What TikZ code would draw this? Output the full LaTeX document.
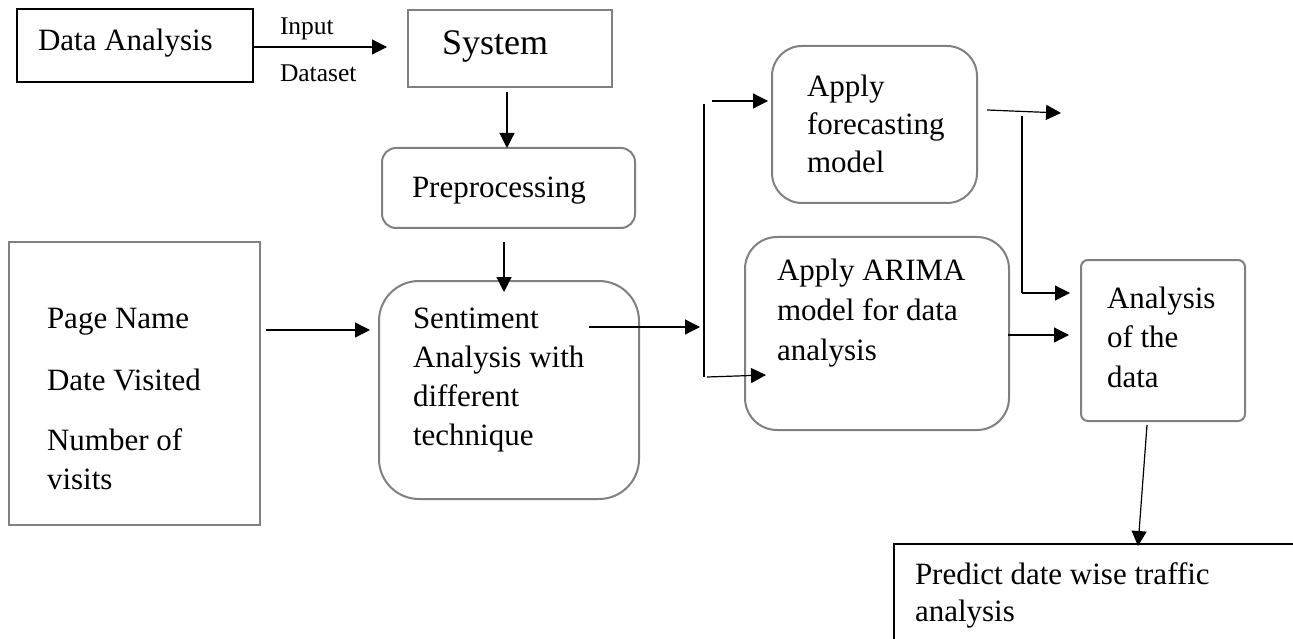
\documentclass[tikz,border=0pt]{standalone}
\usepackage{fontspec}
\setmainfont{Liberation Serif}
\usetikzlibrary{arrows.meta,calc}
\definecolor{boxgrey}{RGB}{128,128,128}

\begin{document}
\begin{tikzpicture}[x=1pt,y=-1pt,
  every node/.style={inner sep=0pt,outer sep=0pt},
  blackbox/.style={draw=black,line width=2pt},
  greybox/.style={draw=boxgrey,line width=2pt},
  flow/.style={line width=1.2pt,-{Triangle[length=15pt,width=15pt]}},
  plainline/.style={line width=1.2pt},
  txt/.style={anchor=base west,font=\fontsize{31}{39}\selectfont},
  smalltxt/.style={anchor=base west,font=\fontsize{25.5}{30}\selectfont},
  bigtxt/.style={anchor=base west,font=\fontsize{36}{44}\selectfont}]

\useasboundingbox (0,0) rectangle (1293,639);
\clip (0,0) rectangle (1293,639);

% boxes
\node[blackbox,minimum width=236pt,minimum height=73pt] (da) at (135,45.5) {};
\node[greybox,minimum width=204pt,minimum height=77pt] (sys) at (510,48.5) {};
\node[greybox,rounded corners=14pt,minimum width=253pt,minimum height=80pt] (pre) at (508.5,188) {};
\node[greybox,minimum width=251pt,minimum height=283pt] (pages) at (134.5,383.5) {};
\node[greybox,rounded corners=40pt,minimum width=260pt,minimum height=218pt] (sent) at (509,390) {};
\node[greybox,rounded corners=30pt,minimum width=205pt,minimum height=157pt] (fore) at (874.5,124.5) {};
\node[greybox,rounded corners=32pt,minimum width=264pt,minimum height=193pt] (arima) at (877,333.5) {};
\node[greybox,rounded corners=7pt,minimum width=164pt,minimum height=161pt] (anal) at (1163,340.5) {};
\node[blackbox,anchor=north west,minimum width=430pt,minimum height=130pt] (pred) at (894,544) {};

% texts
\node[txt] (daT) at (38,51) {Data Analysis};
\node[smalltxt] (inT) at (280,35) {Input};
\node[smalltxt] (dsT) at (280,82) {Dataset};
\node[bigtxt] (sysT) at (442,55) {System};
\node[txt] (preT) at (412,198) {Preprocessing};
\node[txt] (pagesT) at (47,328) {\vtop{\hbox{Page Name}\vskip23pt\hbox{Date Visited}\vskip21pt\hbox{Number of}\hbox{visits}}};
\node[txt] (sentT) at (413,328) {\vtop{\hbox{Sentiment}\hbox{Analysis with}\hbox{different}\hbox{technique}}};
\node[txt] (foreT) at (807,97) {\vtop{\baselineskip=38pt\hbox{Apply}\hbox{forecasting}\hbox{model}}};
\node[txt] (arimaT) at (777,280) {\vtop{\baselineskip=40pt\hbox{Apply ARIMA}\hbox{model for data}\hbox{analysis}}};
\node[txt] (analT) at (1107,308) {\vtop{\baselineskip=39.5pt\hbox{Analysis}\hbox{of the}\hbox{data}}};
\node[txt] (predT) at (915,584) {\vtop{\baselineskip=37pt\hbox{Predict date wise traffic}\hbox{analysis}}};

% connector end points
\coordinate (inTip) at (387,47);
\coordinate (sysOut) at (507,92);
\coordinate (preOut) at (504,242);
\coordinate (sentIn) at (504,292);
\coordinate (pagesOut) at (266,330);
\coordinate (pagesTip) at (370,330);
\coordinate (sentOut) at (589,327);
\coordinate (branchIn) at (700,327);
\coordinate (branchTop) at (704,104);
\coordinate (branchBot) at (704,377);
\coordinate (foreFrom) at (712,101);
\coordinate (foreTip) at (768,101);
\coordinate (arimaFrom) at (707,377);
\coordinate (arimaTip) at (766,375);
\coordinate (foreOut) at (987,110);
\coordinate (foreFree) at (1061,113);
\coordinate (joinTop) at (1022,116);
\coordinate (joinBot) at (1022,293);
\coordinate (joinTip) at (1070,293);
\coordinate (arimaOut) at (1008,335);
\coordinate (analIn) at (1069,335);
\coordinate (analOut) at (1147,425);
\coordinate (predIn) at (1138,546);

% connectors
\draw[flow] (da.east |- inTip) -- (inTip);
\draw[flow] (sysOut) -- (pre.north -| sysOut);
\draw[flow] (preOut) -- (sentIn);
\draw[flow] (pagesOut) -- (pagesTip);
\draw[flow] (sentOut) -- (branchIn);
\draw[plainline] (branchTop) -- (branchBot);
\draw[flow] (foreFrom) -- (foreTip);
\draw[flow] (arimaFrom) -- (arimaTip);
\draw[flow] (foreOut) -- (foreFree);
\draw[plainline] (joinTop) -- (joinBot);
\draw[flow] (joinBot) -- (joinTip);
\draw[flow] (arimaOut) -- (analIn);
\draw[flow] (analOut) -- (predIn);
\end{tikzpicture}
\end{document}
